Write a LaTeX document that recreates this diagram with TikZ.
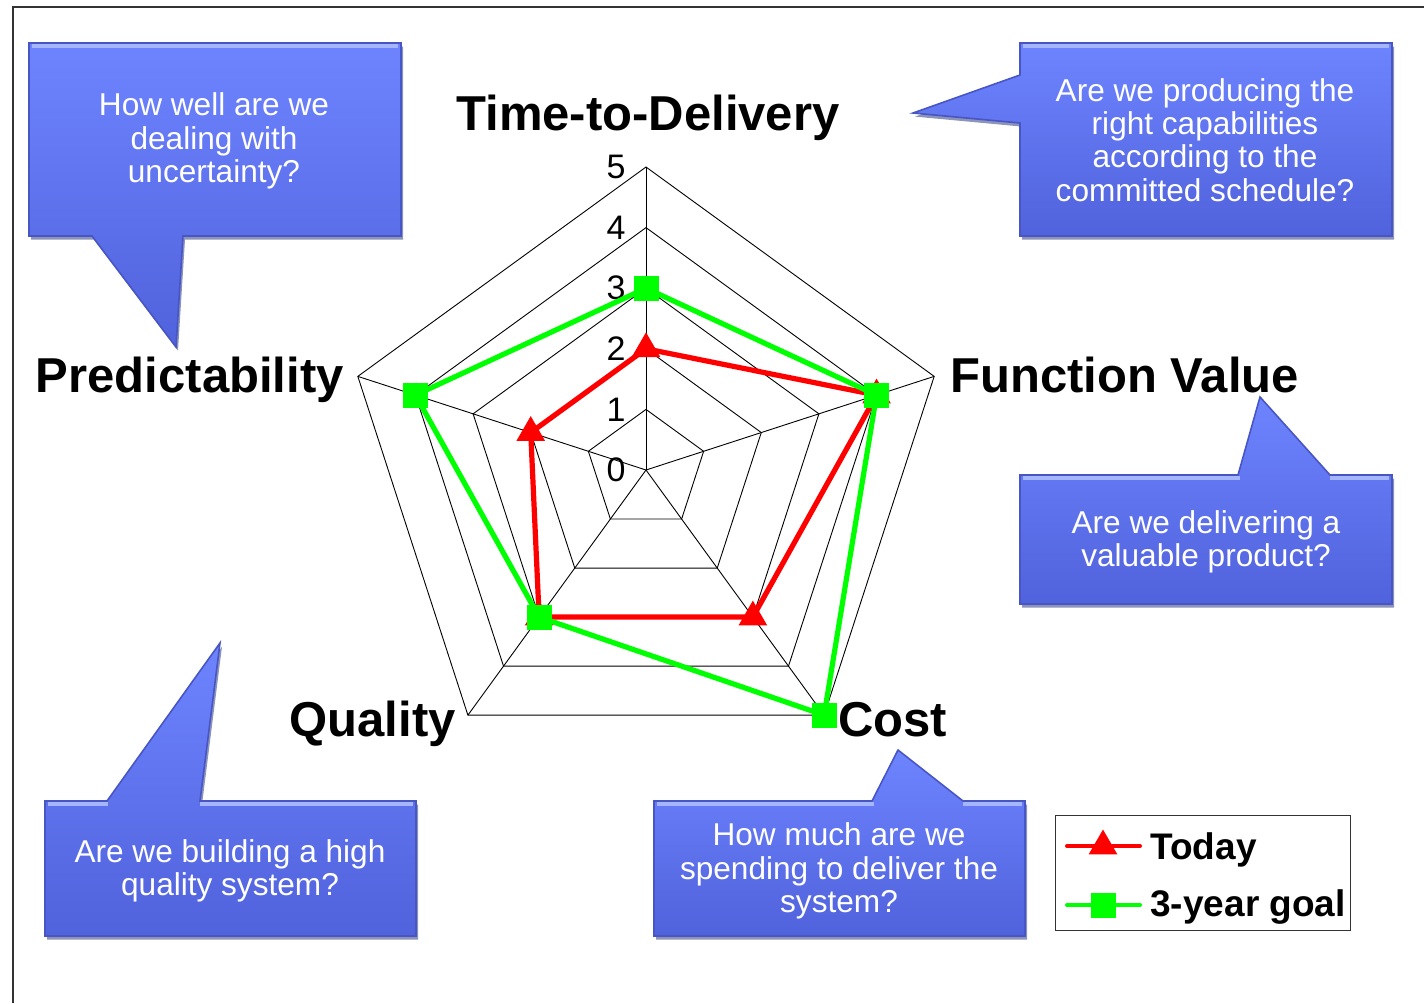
\documentclass[tikz,border=0pt]{standalone}
\usepackage{fontspec}
\setmainfont{Liberation Sans}
\usetikzlibrary{shapes.geometric}

\definecolor{calltop}{RGB}{110,132,255}
\definecolor{callbot}{RGB}{80,98,220}
\definecolor{calledge}{RGB}{72,86,196}
\definecolor{callhi}{RGB}{165,182,255}
\definecolor{callshadow}{RGB}{140,148,185}
\definecolor{seriesred}{RGB}{255,0,0}
\definecolor{seriesgreen}{RGB}{0,255,0}

\tikzset{
  gridline/.style={black, line width=0.45pt},
  ticklabel/.style={font=\fontsize{17}{19}\selectfont, inner sep=0},
  catlabel/.style={font=\fontsize{24.5}{28}\selectfont\bfseries, inner sep=0},
  ctext/.style={text=white, align=center, font=\fontsize{15.8}{16.6}\selectfont, inner sep=0},
  legtext/.style={font=\fontsize{18.5}{21}\selectfont\bfseries, inner sep=0},
  todayline/.style={draw=seriesred, line width=2.6pt, line join=round},
  goalline/.style={draw=seriesgreen, line width=2.6pt, line join=round},
  todaymark/.style={regular polygon, regular polygon sides=3, fill=seriesred, inner sep=0, minimum size=16.5pt},
  goalmark/.style={rectangle, fill=seriesgreen, inner sep=0, minimum size=12.5pt},
  cshadow/.style={fill=callshadow, xshift=1pt, yshift=-1.8pt},
  cbody/.style={top color=calltop, bottom color=callbot, draw=calledge, line width=0.8pt, line join=miter},
  chigh/.style={draw=callhi, line width=1.6pt},
}

% callout balloon: shadow, shaded body
\newcommand\balloon[1]{%
  \fill[cshadow] #1;
  \path[cbody] #1;
}

\begin{document}
\begin{tikzpicture}[x=0.5pt,y=-0.5pt]
\useasboundingbox (0,0) rectangle (1424,1003);

% page frame
\draw[line width=1pt, black!80] (13,1003) -- (13,7) -- (1424,7);

% ---------- callouts ----------
\balloon{(29,43) -- (401,43) -- (401,236) -- (183,236) -- (176,347) -- (92,236) -- (29,236) -- cycle}
\draw[chigh] (32,46) -- (398,46);
\node[ctext] (q1) at (214,141) {How well are we\\dealing with\\uncertainty?};

\balloon{(1020,43) -- (1392,43) -- (1392,236) -- (1020,236) -- (1020,123) -- (913,113) -- (1020,75) -- cycle}
\draw[chigh] (1023,46) -- (1389,46);
\node[ctext] (q2) at (1205,140) {Are we producing the\\right capabilities\\according to the\\committed schedule?};

\balloon{(1020,475) -- (1238,475) -- (1260,397) -- (1330,475) -- (1392,475) -- (1392,604) -- (1020,604) -- cycle}
\draw[chigh] (1023,478) -- (1240,478);
\draw[chigh] (1330,478) -- (1389,478);
\node[ctext] (q3) at (1206,542) {Are we delivering a\\valuable product?};

\balloon{(654,801) -- (872,801) -- (898,750) -- (963,801) -- (1025,801) -- (1025,936) -- (654,936) -- cycle}
\draw[chigh] (657,804) -- (874,804);
\draw[chigh] (963,804) -- (1022,804);
\node[ctext] (q4) at (839,871) {How much are we\\spending to deliver the\\system?};

\balloon{(45,801) -- (107,801) -- (220,643) -- (200,801) -- (416,801) -- (416,936) -- (45,936) -- cycle}
\draw[chigh] (48,804) -- (108,804);
\draw[chigh] (200,804) -- (413,804);
\node[ctext] (q5) at (230,871) {Are we building a high\\quality system?};

% ---------- radar chart ----------
\begin{scope}[xshift=323pt, yshift=-235pt, x=0.5pt, y=0.5pt]
  \def\u{60.6}
  \coordinate (ctr) at (0,0);
  \foreach \k in {1,...,5}
    \draw[gridline] (90:\k*\u) -- (18:\k*\u) -- (-54:\k*\u) -- (-126:\k*\u) -- (162:\k*\u) -- cycle;
  \foreach \a in {90,18,-54,-126,162}
    \draw[gridline] (ctr) -- (\a:5*\u);
  \foreach \k in {0,...,5}
    \node[ticklabel] (tick\k) at (-30,\k*\u) {\k};

  % Today
  \coordinate (td1) at (90:2*\u);
  \coordinate (td2) at (18:4*\u);
  \coordinate (td3) at (-54:3*\u);
  \coordinate (td4) at (-126:3*\u);
  \coordinate (td5) at (162:2*\u);
  \draw[todayline] (td1) -- (td2) -- (td3) -- (td4) -- (td5) -- cycle;
  \foreach \i in {1,...,5}
    \node[todaymark] (tm\i) at (td\i) {};

  % 3-year goal
  \coordinate (gl1) at (90:3*\u);
  \coordinate (gl2) at (18:4*\u);
  \coordinate (gl3) at (-54:5*\u);
  \coordinate (gl4) at (-126:3*\u);
  \coordinate (gl5) at (162:4*\u);
  \draw[goalline] (gl1) -- (gl2) -- (gl3) -- (gl4) -- (gl5) -- cycle;
  \foreach \i in {1,...,5}
    \node[goalmark] (gm\i) at (gl\i) {};
\end{scope}

% axis titles
\node[catlabel, anchor=base] (axTime) at (648,130) {Time-to-Delivery};
\node[catlabel, anchor=base west] (axFunc) at (950,392) {Function Value};
\node[catlabel, anchor=base west] (axCost) at (838,736) {Cost};
\node[catlabel, anchor=base east] (axQual) at (456,736) {Quality};
\node[catlabel, anchor=base east] (axPred) at (344,392) {Predictability};

% ---------- legend ----------
\node[draw=black!80, line width=0.5pt, anchor=north west, minimum width=147.5pt, minimum height=57.5pt, inner sep=0] (legend) at (1055,815) {};
\coordinate (lgA1) at (1067,846);
\coordinate (lgA2) at (1140,846);
\draw[todayline, line width=2pt, line cap=round] (lgA1) -- (lgA2);
\node[todaymark] (lgAm) at (1103,846) {};
\node[legtext, anchor=base west] (lgAt) at (1150,859) {Today};
\coordinate (lgB1) at (1067,905);
\coordinate (lgB2) at (1140,905);
\draw[goalline, line width=2pt, line cap=round] (lgB1) -- (lgB2);
\node[goalmark] (lgBm) at (1103,905) {};
\node[legtext, anchor=base west] (lgBt) at (1150,916) {3-year goal};
\end{tikzpicture}
\end{document}
